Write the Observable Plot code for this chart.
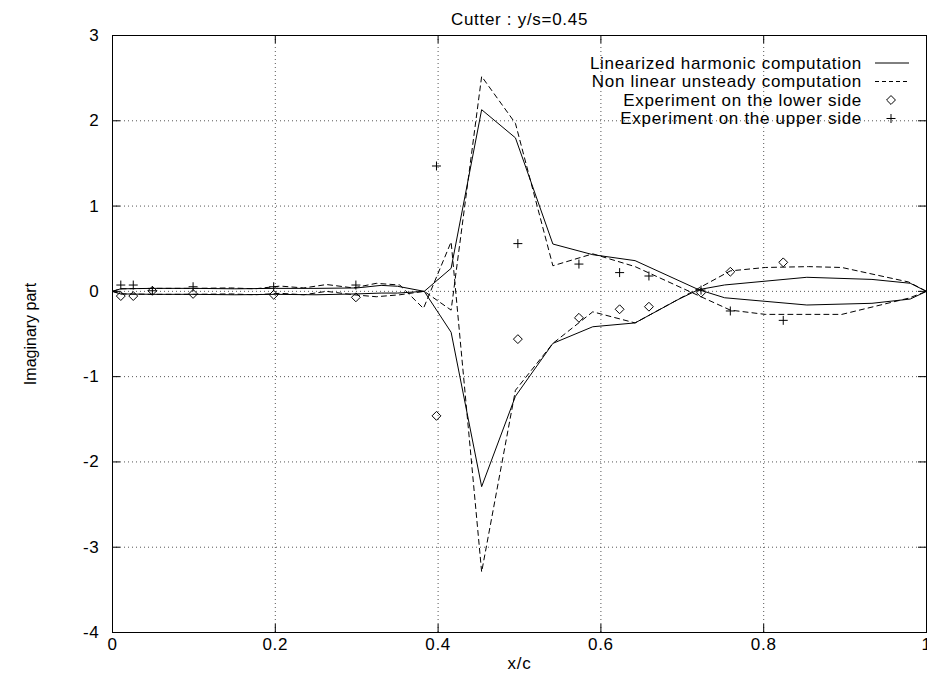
<!DOCTYPE html>
<html><head><meta charset="utf-8">
<script src="https://cdn.jsdelivr.net/npm/d3@7"></script>
<script src="https://cdn.jsdelivr.net/npm/@observablehq/plot@0.6"></script>
<style>
body{margin:0;background:#fff;}
#wrap{position:relative;width:927px;height:682px;font-family:"Liberation Sans",Arial,sans-serif;}
#legend{position:absolute;left:0;top:0;pointer-events:none;}
</style></head><body>
<div id="wrap"><div id="chart"></div><svg id="legend" width="927" height="140"></svg></div>
<script>
// ---- data ----
const title = "Cutter : y/s=0.45";
const xLabel = "x/c";
const yLabel = "Imaginary part";
const xTicks = [0, 0.2, 0.4, 0.6, 0.8, 1];
const xTickLabels = ["0", "0.2", "0.4", "0.6", "0.8", "1"];
const yTicks = [3, 2, 1, 0, -1, -2, -3, -4];
const yTickLabels = ["3", "2", "1", "0", "-1", "-2", "-3", "-4"];
const seriesNames = ["Linearized harmonic computation", "Non linear unsteady computation",
  "Experiment on the lower side", "Experiment on the upper side"];

// Linearized harmonic computation (solid)
const linUpperX = [0, 0.01, 0.05, 0.1, 0.15, 0.2, 0.25, 0.3, 0.33, 0.35, 0.383, 0.416, 0.4535, 0.495, 0.541, 0.59, 0.642, 0.72, 0.752, 0.853, 0.933, 0.98, 1.0];
const linUpperY = [0, 0.03, 0.035, 0.035, 0.03, 0.035, 0.035, 0.04, 0.07, 0.06, 0.0, 0.27, 2.13, 1.80, 0.555, 0.43, 0.36, 0.02, -0.075, -0.16, -0.14, -0.09, 0.0];
const linLowerX = [0, 0.01, 0.05, 0.1, 0.15, 0.2, 0.25, 0.3, 0.33, 0.35, 0.383, 0.416, 0.4535, 0.495, 0.541, 0.59, 0.642, 0.696, 0.72, 0.752, 0.853, 0.933, 0.98, 1.0];
const linLowerY = [0, -0.03, -0.035, -0.035, -0.04, -0.035, -0.04, -0.03, -0.02, -0.02, 0.0, -0.48, -2.29, -1.23, -0.61, -0.415, -0.37, -0.09, 0.02, 0.075, 0.165, 0.14, 0.095, 0.0];

// Non linear unsteady computation (dashed)
const nlAX = [0, 0.01, 0.05, 0.1, 0.145, 0.175, 0.206, 0.235, 0.263, 0.296, 0.324, 0.353, 0.382, 0.416, 0.4535, 0.495, 0.541, 0.59, 0.642, 0.759, 0.802, 0.855, 0.896, 0.978, 1.0];
const nlAY = [0, 0.03, 0.035, 0.035, 0.04, 0.03, 0.062, 0.04, 0.08, 0.04, 0.094, 0.074, -0.20, 0.58, -3.29, -1.16, -0.61, -0.24, -0.37, 0.24, 0.28, 0.29, 0.28, 0.11, 0.0];
const nlBX = [0, 0.01, 0.05, 0.1, 0.145, 0.175, 0.206, 0.235, 0.263, 0.296, 0.324, 0.353, 0.383, 0.416, 0.4535, 0.495, 0.541, 0.59, 0.642, 0.759, 0.802, 0.896, 0.978, 1.0];
const nlBY = [0, -0.03, -0.035, -0.035, -0.03, -0.04, -0.023, -0.04, 0.0, -0.04, -0.063, -0.04, 0.0, -0.22, 2.52, 1.97, 0.30, 0.44, 0.29, -0.22, -0.27, -0.27, -0.08, 0.0];

// Experiments
const expX = [0.0102, 0.0255, 0.049, 0.099, 0.198, 0.299, 0.398, 0.498, 0.573, 0.623, 0.659, 0.723, 0.759, 0.824];
const expLowerY = [-0.055, -0.055, 0.007, -0.03, -0.04, -0.07, -1.46, -0.56, -0.31, -0.21, -0.18, -0.016, 0.23, 0.34];
const expUpperY = [0.074, 0.074, 0.007, 0.054, 0.054, 0.074, 1.47, 0.56, 0.32, 0.22, 0.18, 0.015, -0.23, -0.34];

// ---- layout ----
const W = 927, H = 682, mL = 112, mR = 1, mT = 35, mB = 50;
const frameW = W - mL - mR, frameH = H - mT - mB;
const pts = (xs, ys) => xs.map((x, i) => ({x, y: ys[i]}));
const gridStyle = {stroke: "#555", strokeOpacity: 1, strokeWidth: 1, strokeDasharray: "1,3"};
const dash = "5,4";

const chart = Plot.plot({
  width: W, height: H,
  marginLeft: mL, marginRight: mR, marginTop: mT, marginBottom: mB,
  style: {fontFamily: "'Liberation Sans', Arial, sans-serif", fontSize: "17px", letterSpacing: "0.7px", background: "white", color: "black"},
  x: {domain: [0, 1], axis: null},
  y: {domain: [-4, 3], axis: null},
  marks: [
    Plot.ruleX(xTicks.slice(1, -1), {x: d => d, ...gridStyle}),
    Plot.ruleY(yTicks.slice(1, -1), {y: d => d, ...gridStyle}),
    Plot.line(pts(linUpperX, linUpperY), {x: "x", y: "y", stroke: "black", strokeWidth: 1}),
    Plot.line(pts(linLowerX, linLowerY), {x: "x", y: "y", stroke: "black", strokeWidth: 1}),
    Plot.line(pts(nlAX, nlAY), {x: "x", y: "y", stroke: "black", strokeWidth: 1, strokeDasharray: dash}),
    Plot.line(pts(nlBX, nlBY), {x: "x", y: "y", stroke: "black", strokeWidth: 1, strokeDasharray: dash}),
    Plot.dot(pts(expX, expLowerY), {x: "x", y: "y", symbol: "diamond2", r: 4, stroke: "black", strokeWidth: 1}),
    Plot.dot(pts(expX, expUpperY), {x: "x", y: "y", symbol: "plus", r: 3, stroke: "black", strokeWidth: 1}),
    // inward ticks on all four sides
    Plot.tickX(xTicks, {x: d => d, insetTop: frameH - 8, stroke: "black"}),
    Plot.tickX(xTicks, {x: d => d, insetBottom: frameH - 8, stroke: "black"}),
    Plot.tickY(yTicks, {y: d => d, insetRight: frameW - 8, stroke: "black"}),
    Plot.tickY(yTicks, {y: d => d, insetLeft: frameW - 8, stroke: "black"}),
    Plot.frame({stroke: "black", strokeWidth: 1}),
    // tick labels
    Plot.text(xTicks, {x: d => d, text: (d, i) => xTickLabels[i], frameAnchor: "bottom", textAnchor: "middle", dy: 17, fill: "black"}),
    Plot.text(yTicks, {y: d => d, text: (d, i) => yTickLabels[i], frameAnchor: "left", dx: -13, textAnchor: "end", fill: "black"}),
    // axis labels and title
    Plot.text([xLabel], {frameAnchor: "bottom", textAnchor: "middle", dy: 36, fill: "black"}),
    Plot.text([yLabel], {frameAnchor: "left", textAnchor: "middle", dx: -82, rotate: -90, fill: "black", fontSize: 16}),
    Plot.text([title], {frameAnchor: "top", textAnchor: "middle", dy: -23, fill: "black"})
  ]
});
document.getElementById("chart").appendChild(chart);
// the y-axis title is drawn without extra letter spacing
d3.select(chart).selectAll("text").filter(function() { return this.textContent === yLabel; })
  .style("letter-spacing", "0px");

// ---- legend (top right, inside the frame) ----
const lg = d3.select("#legend");
const rowY = [63, 81.5, 100, 118.5];
const textRight = 862, sX1 = 875, sX2 = 909, sXc = 891;
seriesNames.forEach((name, i) => {
  lg.append("text").attr("x", textRight).attr("y", rowY[i]).attr("dy", "0.35em")
    .attr("text-anchor", "end").attr("font-size", 17).attr("letter-spacing", "0.7px").attr("fill", "black")
    .attr("font-family", "'Liberation Sans', Arial, sans-serif").text(name);
});
lg.append("line").attr("x1", sX1).attr("x2", sX2).attr("y1", rowY[0]).attr("y2", rowY[0]).attr("stroke", "black");
lg.append("line").attr("x1", sX1).attr("x2", sX2).attr("y1", rowY[1]).attr("y2", rowY[1]).attr("stroke", "black").attr("stroke-dasharray", "4,3");
lg.append("path").attr("d", d3.symbol(d3.symbolDiamond2, Math.PI * 16)()).attr("transform", `translate(${sXc},${rowY[2]})`).attr("fill", "none").attr("stroke", "black");
lg.append("path").attr("d", d3.symbol(d3.symbolPlus, Math.PI * 9)()).attr("transform", `translate(${sXc},${rowY[3]})`).attr("fill", "none").attr("stroke", "black");
</script></body></html>
